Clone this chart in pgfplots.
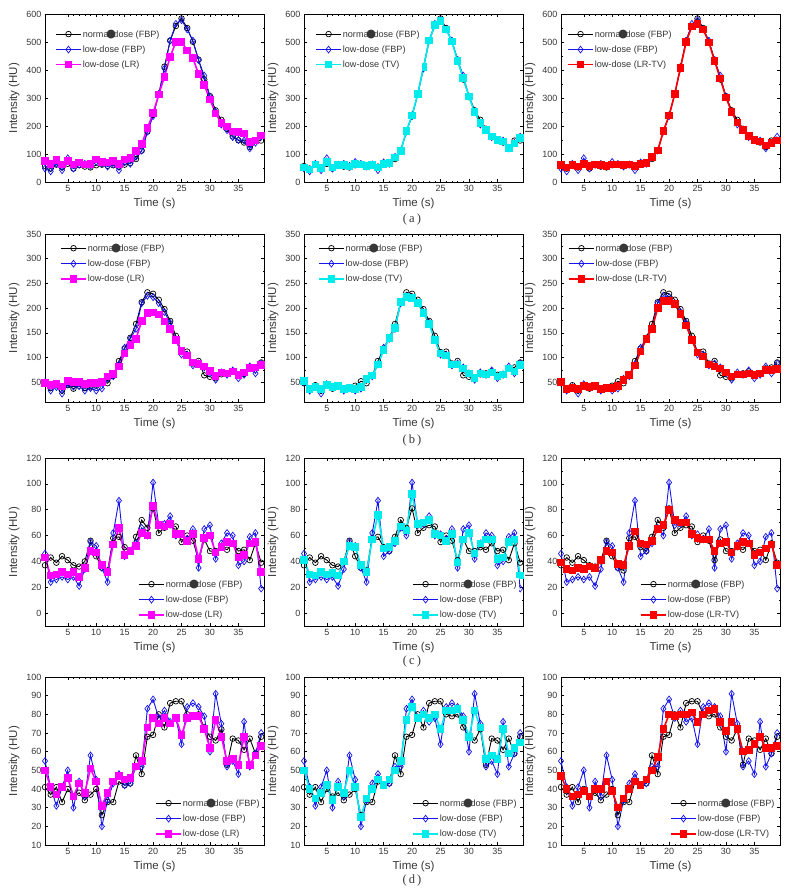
\documentclass[border=0pt]{standalone}
\usepackage{fontspec}
\setmainfont{Liberation Sans}
\newfontfamily\dejavu{DejaVu Sans}
\newfontfamily\capfont{Liberation Serif}
\usepackage{pgfplots}
\usepackage{pgfplotstable}
\pgfplotsset{compat=1.18}

\definecolor{myblue}{RGB}{20,20,235}
\definecolor{mymag}{RGB}{255,0,255}
\definecolor{mycyan}{RGB}{0,235,235}
\definecolor{myred}{RGB}{250,0,0}
\definecolor{txt}{RGB}{55,55,55}

\pgfplotstableread{
x nd ld lr tv lrtv
1 57 48 75 52 60
2 48 38 65 45 52
3 62 65 78 62 60
4 52 42 62 50 55
5 65 85 75 72 65
6 48 48 62 52 58
7 60 62 70 60 62
8 55 65 62 60 60
9 52 58 65 55 58
10 60 72 80 65 62
11 62 65 72 62 62
12 58 55 70 58 60
13 60 63 75 60 62
14 55 42 65 52 58
15 62 70 80 65 65
16 68 65 85 68 68
17 82 90 110 88 90
18 112 112 135 110 112
19 180 180 192 183 182
20 240 235 246 237 237
21 312 315 312 315 315
22 412 405 376 410 408
23 505 505 447 505 500
24 557 565 500 560 555
25 584 578 500 575 565
26 550 545 470 545 545
27 501 505 443 502 498
28 437 435 385 432 432
29 366 380 346 372 370
30 307 305 294 305 302
31 256 250 245 250 250
32 222 205 211 210 212
33 190 185 198 185 185
34 163 160 181 162 165
35 149 150 179 150 150
36 141 148 173 145 145
37 125 120 143 122 130
38 148 140 148 138 140
39 148 162 166 158 148
}\rowA

\pgfplotstableread{
x nd ld lr tv lrtv
1 48 50 48 52 50
2 38 33 45 36 36
3 44 40 47 40 38
4 33 27 41 36 36
5 44 46 53 45 42
6 37 41 50 40 40
7 43 42 51 42 42
8 38 33 46 36 36
9 40 38 49 38 38
10 43 33 48 36 38
11 52 37 51 40 42
12 48 57 62 57 55
13 63 62 67 64 65
14 93 86 82 86 84
15 118 120 108 115 112
16 140 138 125 140 138
17 168 158 138 160 158
18 212 210 174 212 200
19 232 225 190 222 215
20 229 222 191 220 215
21 217 210 187 210 208
22 198 192 173 190 188
23 174 170 158 168 165
24 144 136 135 135 135
25 111 106 113 108 110
26 112 106 104 104 102
27 88 84 90 86 86
28 93 88 87 86 82
29 64 80 82 78 78
30 61 68 73 68 70
31 58 55 63 58 62
32 66 70 70 68 66
33 68 65 68 66 66
34 72 74 72 70 68
35 65 58 65 62 65
36 67 65 70 66 68
37 78 82 79 78 75
38 80 68 80 72 75
39 90 88 85 85 77
}\rowB

\pgfplotstableread{
x nd ld lr tv lrtv
1 37 46 43 41 39
2 43 24 29 30 34
3 39 26 30 29 33
4 44 28 32 32 35
5 41 26 30 30 34
6 37 28 32 31 36
7 36 21 28 29 35
8 40 34 35 40 41
9 56 55 48 52 48
10 44 52 47 51 47
11 35 35 37 37 38
12 33 24 32 32 37
13 58 62 53 57 52
14 59 87 66 76 63
15 51 44 45 50 54
16 48 48 48 51 53
17 59 54 52 56 56
18 72 66 62 67 65
19 66 60 60 64 68
20 81 101 83 92 80
21 62 68 68 69 72
22 66 69 67 70 70
23 68 75 69 72 70
24 67 60 61 61 61
25 55 61 61 60 58
26 60 57 56 56 57
27 56 65 61 61 57
28 41 35 42 39 48
29 57 65 58 57 54
30 48 68 60 62 55
31 48 42 47 46 47
32 51 54 51 54 52
33 49 62 55 57 55
34 54 60 54 57 54
35 48 37 43 42 45
36 49 40 45 43 47
37 41 59 54 55 50
38 54 62 55 57 53
39 39 19 32 29 37
}\rowC

\pgfplotstableread{
x nd ld lr tv lrtv
1 41 55 50 50 47
2 37 41 41 40 40
3 41 31 37 35 36
4 33 41 41 38 37
5 40 50 46 42 39
6 36 30 36 34 36
7 38 44 43 41 40
8 34 36 38 38 40
9 37 58 51 50 44
10 40 45 44 41 39
11 26 20 31 25 30
12 33 34 38 35 35
13 33 43 44 40 40
14 44 48 47 45 44
15 42 42 45 42 42
16 43 43 46 45 45
17 58 52 52 50 50
18 48 52 55 55 57
19 68 83 73 77 72
20 69 88 78 84 80
21 80 78 75 78 79
22 73 82 78 80 80
23 86 76 75 78 80
24 87 78 78 80 81
25 87 64 69 72 76
26 80 84 78 82 80
27 79 86 79 82 82
28 80 84 79 83 83
29 73 79 72 77 76
30 68 60 62 68 71
31 66 91 77 82 76
32 72 75 68 73 72
33 53 52 55 56 60
34 67 55 56 58 61
35 66 48 53 56 64
36 61 76 68 72 68
37 67 52 53 59 62
38 59 59 58 62 62
39 68 70 63 65 63
}\rowD

\newcommand{\ndtxt}{norma\makebox[4.9pt]{\dejavu\fontsize{11.5}{10}\selectfont ●}dose (FBP)}

\pgfplotsset{
  panel/.style={
    scale only axis, width=219pt, height=168pt, anchor=north west,
    xmin=1, xmax=39.5, xtick={5,10,...,35},
    minor x tick num=4, minor y tick num=1,
    tick align=inside, major tick length=3pt, minor tick length=1.5pt,
    xlabel={Time (s)}, ylabel={Intensity (HU)},
    tick label style={font=\fontsize{9}{10}\selectfont, text=txt},
    label style={font=\fontsize{11.5}{13}\selectfont, text=txt},
    xlabel style={yshift=1pt},
    /pgf/number format/assume math mode=true,
    axis line style={black, line width=0.6pt},
    tick style={black, line width=0.5pt},
    legend cell align=left,
    legend style={draw=none, fill=white, inner xsep=1pt, inner ysep=1pt,
      row sep=5pt, font=\fontsize{9.1}{10}\selectfont,
      nodes={inner xsep=1pt, inner ysep=1pt, text=txt}},
    legend image code/.code={\draw[mark repeat=2,mark phase=2,##1] plot coordinates {(0pt,0pt) (12.5pt,0pt) (25pt,0pt)};},
  },
  ra/.style={ymin=0, ymax=600, ytick={0,100,...,600}},
  rb/.style={ymin=10, ymax=350, ytick={50,100,...,350}},
  rc/.style={ymin=-10, ymax=120, ytick={0,20,...,120}},
  rd/.style={ymin=10, ymax=100, ytick={10,20,...,100}},
  legtop/.style 2 args={legend style={at={(axis description cs:#1,#2)}, anchor=north west}},
  legbot/.style 2 args={legend style={at={(axis description cs:#1,#2)}, anchor=south west}},
  ndp/.style={black, line width=0.9pt, mark=o, mark size=2.8pt, mark options={solid, line width=0.7pt}},
  ldp/.style={myblue, line width=0.9pt, mark=diamond, mark size=3.4pt, mark options={solid, line width=0.7pt}},
  lrp/.style={mymag, line width=1.6pt, mark=square*, mark size=3pt, mark options={solid}},
  tvp/.style={mycyan, line width=1.6pt, mark=square*, mark size=3pt, mark options={solid}},
  lrtvp/.style={myred, line width=1.6pt, mark=square*, mark size=3pt, mark options={solid}},
}

\newcommand{\threeplots}[3]{%
  \addplot[ndp] table[x=x,y=nd]{#1};
  \addplot[ldp] table[x=x,y=ld]{#1};
  \addplot[#2] table[x=x,y=#3]{#1};
}

\begin{document}
\begin{tikzpicture}
\path[use as bounding box] (0,0) rectangle (800pt,-895pt);

% ---------- row a ----------
\begin{axis}[panel, ra, at={(45pt,-14pt)}, legtop={0.041}{0.92}]
\threeplots{\rowA}{lrp}{lr}
\legend{\ndtxt, low-dose (FBP), low-dose (LR)}
\end{axis}
\begin{axis}[panel, ra, at={(304pt,-14pt)}, legtop={0.046}{0.92}]
\threeplots{\rowA}{tvp}{tv}
\legend{\ndtxt, low-dose (FBP), low-dose (TV)}
\end{axis}
\begin{axis}[panel, ra, at={(561pt,-14pt)}, legtop={0.023}{0.92}]
\threeplots{\rowA}{lrtvp}{lrtv}
\legend{\ndtxt, low-dose (FBP), low-dose (LR-TV)}
\end{axis}

% ---------- row b ----------
\begin{axis}[panel, rb, at={(45pt,-234pt)}, legtop={0.064}{0.955}]
\threeplots{\rowB}{lrp}{lr}
\legend{\ndtxt, low-dose (FBP), low-dose (LR)}
\end{axis}
\begin{axis}[panel, rb, at={(304pt,-234pt)}, legtop={0.059}{0.955}]
\threeplots{\rowB}{tvp}{tv}
\legend{\ndtxt, low-dose (FBP), low-dose (TV)}
\end{axis}
\begin{axis}[panel, rb, at={(561pt,-234pt)}, legtop={0.027}{0.955}]
\threeplots{\rowB}{lrtvp}{lrtv}
\legend{\ndtxt, low-dose (FBP), low-dose (LR-TV)}
\end{axis}

% ---------- row c ----------
\begin{axis}[panel, rc, at={(45pt,-458pt)}, legbot={0.42}{0.03}]
\threeplots{\rowC}{lrp}{lr}
\legend{\ndtxt, low-dose (FBP), low-dose (LR)}
\end{axis}
\begin{axis}[panel, rc, at={(304pt,-458pt)}, legbot={0.489}{0.03}]
\threeplots{\rowC}{tvp}{tv}
\legend{\ndtxt, low-dose (FBP), low-dose (TV)}
\end{axis}
\begin{axis}[panel, rc, at={(561pt,-458pt)}, legbot={0.356}{0.03}]
\threeplots{\rowC}{lrtvp}{lrtv}
\legend{\ndtxt, low-dose (FBP), low-dose (LR-TV)}
\end{axis}

% ---------- row d ----------
\begin{axis}[panel, rd, at={(45pt,-677pt)}, legbot={0.498}{0.03}]
\threeplots{\rowD}{lrp}{lr}
\legend{\ndtxt, low-dose (FBP), low-dose (LR)}
\end{axis}
\begin{axis}[panel, rd, at={(304pt,-677pt)}, legbot={0.489}{0.03}]
\threeplots{\rowD}{tvp}{tv}
\legend{\ndtxt, low-dose (FBP), low-dose (TV)}
\end{axis}
\begin{axis}[panel, rd, at={(561pt,-677pt)}, legbot={0.493}{0.03}]
\threeplots{\rowD}{lrtvp}{lrtv}
\legend{\ndtxt, low-dose (FBP), low-dose (LR-TV)}
\end{axis}

% ---------- sub-captions ----------
\foreach \lab/\yy in {a/219, b/440, c/661, d/880}{
  \node[font=\capfont\fontsize{12.5}{14}\selectfont, text=txt] at (412pt,-\yy pt) {(\,\lab\,)};
}
\end{tikzpicture}
\end{document}
